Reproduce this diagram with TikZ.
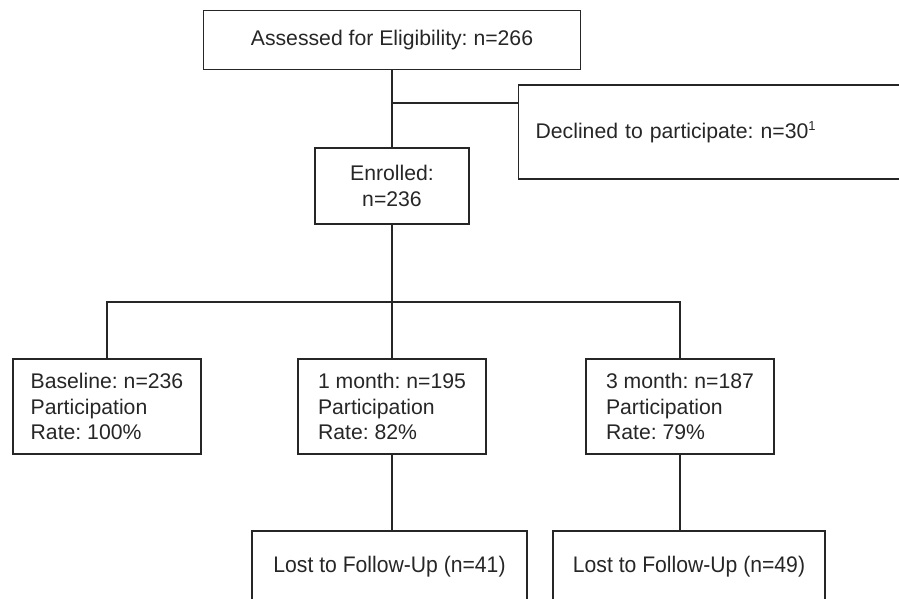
\documentclass[tikz,border=0pt]{standalone}
\usepackage{fontspec}
\setmainfont{Liberation Sans}
\newfontfamily\narrowsf[FakeStretch=0.94]{Liberation Sans}
\frenchspacing
\definecolor{ink}{HTML}{262626}
\newcommand{\footmark}[1]{\raisebox{7.5pt}{\fontsize{13}{13}\selectfont #1}}
\tikzset{
  box/.style={draw=ink, line width=1.2pt, text=ink, inner sep=0pt,
    font=\fontsize{21.2}{25.5}\selectfont},
  stagebox/.style={box, minimum width=188pt, minimum height=95pt, align=left},
  lostbox/.style={box, minimum height=72pt, font=\fontsize{22.5}{26}\narrowsf},
  link/.style={draw=ink, line width=1.6pt}
}
\begin{document}
\begin{tikzpicture}[x=1pt, y=-1pt]
\useasboundingbox (0,0) rectangle (899,598);
\clip (0,0) rectangle (899,598);
\node[box, minimum width=377pt, minimum height=59pt] (assessed) at (392,40) {Assessed for Eligibility: n=266};
\node[box, anchor=west, minimum height=94pt, text width=386pt, inner xsep=17pt, align=left] (declined) at (518,132) {Declined to participate: n=30\footmark{1}};
\node[box, minimum width=154pt, minimum height=76pt, align=center] (enrolled) at (392,186) {Enrolled:\\n=236};
\node[stagebox] (baseline) at (107,406.5) {Baseline: n=236\\Participation\\Rate: 100\%};
\node[stagebox] (onemonth) at (392,406.5) {1 month: n=195\\Participation\\Rate: 82\%};
\node[stagebox] (threemonth) at (680,406.5) {3 month: n=187\\Participation\\Rate: 79\%};
\node[lostbox, minimum width=275pt] (lost41) at (389.5,567) {Lost to Follow-Up (n=41)};
\node[lostbox, minimum width=272pt] (lost49) at (689,567) {Lost to Follow-Up (n=49)};
\coordinate (split) at (392,103);
\coordinate (bar) at (392,302);
\draw[link] (assessed) -- (enrolled);
\draw[link] (split) -- (split -| declined.west);
\draw[link] (enrolled) -- (onemonth);
\draw[link] (baseline.north) -- (baseline.north |- bar) -- (bar -| threemonth.north) -- (threemonth.north);
\draw[link] (onemonth.south) -- (onemonth.south |- lost41.north);
\draw[link] (threemonth.south) -- (threemonth.south |- lost49.north);
\end{tikzpicture}
\end{document}
